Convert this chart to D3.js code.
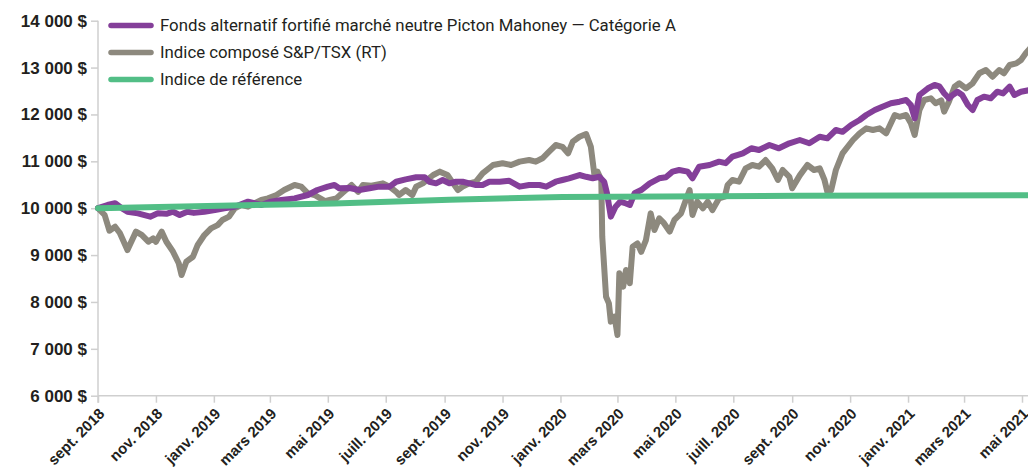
<!DOCTYPE html>
<html>
<head>
<meta charset="utf-8">
<script src="https://cdn.jsdelivr.net/npm/d3@7"></script>
<style>
  body { margin: 0; background: #fff; }
  svg { display: block; font-family: Roboto, "Noto Sans", sans-serif; }
  .axis path, .axis line { stroke: #cfcfcf; stroke-width: 1.5; }
  .axis text { fill: #231f20; font-weight: 600; }
  .legend text { fill: #231f20; font-size: 16.8px; }
</style>
</head>
<body>
<svg width="1028" height="472"></svg>
<script>
// fund: Fonds alternatif fortifié marché neutre Picton Mahoney — Catégorie A
var fundDates = ["2018-09-01","2018-09-11","2018-09-19","2018-09-26","2018-10-02","2018-10-13","2018-10-26","2018-11-03","2018-11-12","2018-11-19","2018-11-26","2018-12-04","2018-12-11","2018-12-22","2019-01-02","2019-01-12","2019-01-23","2019-02-06","2019-02-20","2019-03-02","2019-03-13","2019-03-27","2019-04-10","2019-04-20","2019-05-01","2019-05-08","2019-05-13","2019-05-24","2019-06-03","2019-06-14","2019-06-24","2019-07-05","2019-07-12","2019-07-22","2019-08-02","2019-08-11","2019-08-16","2019-08-23","2019-08-30","2019-09-06","2019-09-13","2019-09-20","2019-09-27","2019-10-04","2019-10-11","2019-10-18","2019-10-29","2019-11-08","2019-11-19","2019-11-29","2019-12-10","2019-12-17","2019-12-27","2020-01-03","2020-01-10","2020-01-21","2020-01-28","2020-02-04","2020-02-11","2020-02-16","2020-02-19","2020-02-23","2020-02-28","2020-03-04","2020-03-10","2020-03-14","2020-03-19","2020-03-26","2020-04-04","2020-04-14","2020-04-21","2020-04-28","2020-05-05","2020-05-14","2020-05-19","2020-05-26","2020-06-06","2020-06-16","2020-06-23","2020-06-30","2020-07-11","2020-07-20","2020-07-28","2020-08-08","2020-08-18","2020-08-29","2020-09-09","2020-09-19","2020-09-30","2020-10-08","2020-10-17","2020-10-24","2020-11-02","2020-11-11","2020-11-18","2020-11-27","2020-12-05","2020-12-14","2020-12-23","2020-12-30","2021-01-04","2021-01-08","2021-01-13","2021-01-22","2021-01-29","2021-02-03","2021-02-08","2021-02-13","2021-02-17","2021-02-22","2021-02-27","2021-03-05","2021-03-10","2021-03-15","2021-03-22","2021-03-29","2021-04-05","2021-04-11","2021-04-18","2021-04-23","2021-04-30","2021-05-09"];
var fundValues = [10000,10068,10105,10000,9925,9890,9820,9890,9880,9925,9855,9925,9900,9925,9960,10000,10032,10140,10068,10140,10175,10210,10282,10388,10460,10495,10425,10430,10388,10425,10460,10460,10565,10615,10660,10660,10565,10530,10602,10530,10565,10565,10530,10495,10495,10565,10565,10585,10460,10495,10495,10460,10565,10602,10638,10708,10670,10638,10670,10565,10318,9820,10032,10140,10100,10068,10318,10388,10530,10638,10660,10780,10815,10780,10638,10885,10922,10993,10960,11100,11170,11278,11242,11348,11278,11385,11455,11385,11525,11490,11668,11630,11775,11882,11988,12095,12165,12238,12272,12308,12200,11918,12415,12558,12628,12600,12452,12345,12415,12485,12415,12202,12095,12308,12380,12345,12485,12450,12592,12415,12485,12520];

// Indice composé S&P/TSX (RT)
var tsxDates = ["2018-09-01","2018-09-08","2018-09-13","2018-09-19","2018-09-24","2018-10-02","2018-10-11","2018-10-17","2018-10-24","2018-10-29","2018-11-01","2018-11-07","2018-11-12","2018-11-19","2018-11-25","2018-11-28","2018-12-03","2018-12-10","2018-12-15","2018-12-22","2018-12-29","2019-01-05","2019-01-10","2019-01-17","2019-01-23","2019-01-30","2019-02-06","2019-02-13","2019-02-20","2019-02-27","2019-03-08","2019-03-16","2019-03-27","2019-04-03","2019-04-10","2019-04-17","2019-04-28","2019-05-03","2019-05-10","2019-05-16","2019-05-26","2019-06-02","2019-06-07","2019-06-16","2019-06-28","2019-07-05","2019-07-12","2019-07-15","2019-07-22","2019-07-29","2019-08-02","2019-08-09","2019-08-20","2019-08-27","2019-09-04","2019-09-10","2019-09-15","2019-09-20","2019-09-27","2019-10-04","2019-10-11","2019-10-22","2019-11-01","2019-11-10","2019-11-19","2019-11-29","2019-12-06","2019-12-13","2019-12-20","2019-12-27","2020-01-03","2020-01-09","2020-01-14","2020-01-21","2020-01-28","2020-02-02","2020-02-06","2020-02-09","2020-02-13","2020-02-14","2020-02-18","2020-02-21","2020-02-23","2020-02-27","2020-03-01","2020-03-03","2020-03-07","2020-03-10","2020-03-14","2020-03-17","2020-03-22","2020-03-26","2020-03-31","2020-04-05","2020-04-09","2020-04-14","2020-04-19","2020-04-25","2020-04-30","2020-05-07","2020-05-12","2020-05-16","2020-05-19","2020-05-24","2020-05-30","2020-06-04","2020-06-09","2020-06-16","2020-06-22","2020-06-25","2020-06-30","2020-07-07","2020-07-14","2020-07-21","2020-07-28","2020-08-04","2020-08-11","2020-08-17","2020-08-22","2020-08-29","2020-09-01","2020-09-09","2020-09-17","2020-09-24","2020-09-30","2020-10-05","2020-10-08","2020-10-12","2020-10-17","2020-10-24","2020-11-04","2020-11-11","2020-11-18","2020-11-25","2020-12-02","2020-12-09","2020-12-18","2020-12-23","2020-12-30","2021-01-04","2021-01-08","2021-01-13","2021-01-18","2021-01-25","2021-01-30","2021-02-05","2021-02-08","2021-02-13","2021-02-19","2021-02-24","2021-03-03","2021-03-10","2021-03-17","2021-03-24","2021-03-31","2021-04-07","2021-04-12","2021-04-18","2021-04-25","2021-04-30","2021-05-05","2021-05-09"];
var tsxValues = [10000,9855,9520,9605,9470,9108,9500,9430,9285,9357,9285,9500,9285,9072,8825,8575,8860,8965,9215,9428,9570,9640,9748,9820,9998,10068,10032,10105,10175,10210,10282,10388,10495,10460,10318,10282,10150,10175,10210,10320,10495,10350,10495,10480,10530,10460,10350,10282,10388,10282,10460,10530,10708,10780,10708,10530,10388,10460,10530,10565,10745,10922,10960,10922,10993,11028,10993,11065,11205,11348,11310,11170,11420,11525,11583,11310,10670,10780,10600,9390,8112,7970,7580,7685,7295,8610,8325,8682,8400,9180,9250,9070,9320,9890,9535,9785,9680,9500,9750,9890,10175,10388,9855,10140,9998,10140,9960,10210,10245,10495,10602,10565,10850,10922,10885,11028,10850,10602,10815,10670,10425,10700,10922,10815,10850,10602,10350,10380,10815,11170,11455,11598,11705,11668,11705,11598,11988,11950,11988,11812,11562,12095,12308,12345,12238,12300,12060,12272,12592,12665,12558,12665,12878,12948,12805,12948,12878,13055,13090,13162,13305,13400];

// Indice de référence
var refDates = ["2018-09-01","2019-05-08","2019-09-06","2020-01-03","2020-09-09","2021-05-09"];
var refValues = [10000,10100,10180,10240,10265,10275];

var yTicks = [6000,7000,8000,9000,10000,11000,12000,13000,14000];
var xTickDates = ["2018-09-01","2018-11-01","2019-01-01","2019-03-01","2019-05-01","2019-07-01","2019-09-01","2019-11-01","2020-01-01","2020-03-01","2020-05-01","2020-07-01","2020-09-01","2020-11-01","2021-01-01","2021-03-01","2021-05-01"];
var xTickLabels = ["sept. 2018","nov. 2018","janv. 2019","mars 2019","mai 2019","juill. 2019","sept. 2019","nov. 2019","janv. 2020","mars 2020","mai 2020","juill. 2020","sept. 2020","nov. 2020","janv. 2021","mars 2021","mai 2021"];

var seriesNames = ["Fonds alternatif fortifié marché neutre Picton Mahoney — Catégorie A", "Indice composé S&P/TSX (RT)", "Indice de référence"];
var colors = ["#843f99", "#8d897e", "#52be86"];

var parse = d3.timeParse("%Y-%m-%d");
function pairs(dates, values) {
  return dates.map(function (d, i) { return {date: parse(d), value: values[i]}; });
}
var fund = pairs(fundDates, fundValues),
    tsx = pairs(tsxDates, tsxValues),
    ref = pairs(refDates, refValues);

var svg = d3.select("svg");

var x = d3.scaleTime()
    .domain([parse("2018-09-01"), parse("2021-05-01")])
    .range([98, 1022]);

var y = d3.scaleLinear()
    .domain([6000, 14000])
    .range([395.7, 20.7]);

var fr = d3.formatLocale({decimal: ",", thousands: " ", grouping: [3], currency: ["", " $"]});
var yFormat = function (v) { return fr.format(",d")(v) + " $"; };

// axes
var gy = svg.append("g")
    .attr("class", "axis")
    .attr("transform", "translate(98,0)")
    .call(d3.axisLeft(y).tickValues(yTicks).tickFormat(yFormat).tickSize(7).tickPadding(4));
gy.select(".domain").attr("d", "M0," + y(14000) + "V" + (y(6000) + 7));
gy.selectAll("text").style("font-size", "17px");

var tickMap = {};
xTickDates.forEach(function (d, i) { tickMap[+parse(d)] = xTickLabels[i]; });

var gx = svg.append("g")
    .attr("class", "axis")
    .attr("transform", "translate(0," + y(6000) + ")")
    .call(d3.axisBottom(x).tickValues(xTickDates.map(parse)).tickFormat(function (d) { return tickMap[+d]; }).tickSize(7));
gx.select(".domain").attr("d", "M98,0H1028");
gx.selectAll("text")
    .style("font-size", "15px")
    .attr("text-anchor", "end")
    .attr("dy", null)
    .attr("y", 0)
    .attr("transform", "translate(7,19) rotate(-45)");

// lines
var line = d3.line()
    .x(function (d) { return x(d.date); })
    .y(function (d) { return y(d.value); });

[tsx, fund, ref].forEach(function (data, i) {
  var c = [colors[1], colors[0], colors[2]][i];
  svg.append("path")
      .datum(data)
      .attr("fill", "none")
      .attr("stroke", c)
      .attr("stroke-width", 6)
      .attr("stroke-linejoin", "round")
      .attr("stroke-linecap", "round")
      .attr("d", line);
});

// legend
var legend = svg.append("g").attr("class", "legend");
seriesNames.forEach(function (name, i) {
  var ly = 25.5 + i * 27;
  legend.append("line")
      .attr("x1", 111).attr("x2", 151)
      .attr("y1", ly).attr("y2", ly)
      .attr("stroke", colors[i])
      .attr("stroke-width", 5.5)
      .attr("stroke-linecap", "round");
  legend.append("text")
      .attr("x", 160).attr("y", ly)
      .attr("dy", "0.35em")
      .text(name);
});
</script>
</body>
</html>
